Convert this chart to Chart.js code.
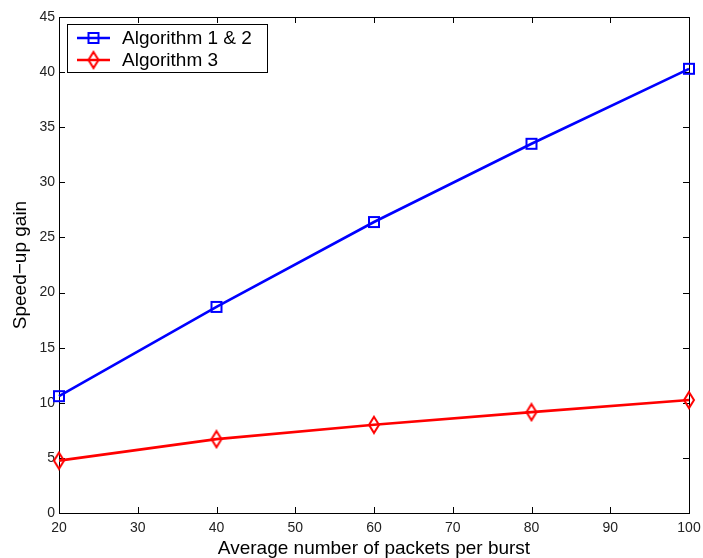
<!DOCTYPE html>
<html>
<head>
<meta charset="utf-8">
<script src="https://cdn.jsdelivr.net/npm/chart.js@4.4.1/dist/chart.umd.min.js"></script>
<style>
  html, body { margin: 0; padding: 0; background: #fff; }
</style>
</head>
<body>
<canvas id="speedupChart" width="703" height="558"></canvas>
<script>
// data
var packetsPerBurst = [20, 40, 60, 80, 100];
var gainAlg12 = [10.6, 18.7, 26.4, 33.5, 40.3];
var gainAlg3 = [4.75, 6.7, 8.0, 9.15, 10.25];
var seriesNames = ['Algorithm 1 & 2', 'Algorithm 3'];
var xTicks = [20, 30, 40, 50, 60, 70, 80, 90, 100];
var yTicks = [0, 5, 10, 15, 20, 25, 30, 35, 40, 45];

var FONT = '"Liberation Sans", Arial, Helvetica, sans-serif';

// matlab style open markers
function squareMarker(color) {
    var c = document.createElement('canvas');
    c.width = 14; c.height = 14;
    var g = c.getContext('2d');
    g.strokeStyle = color;
    g.lineWidth = 2;
    g.strokeRect(2, 2, 10, 10);
    return c;
}
function diamondMarker(color) {
    var c = document.createElement('canvas');
    c.width = 14; c.height = 20;
    var g = c.getContext('2d');
    g.strokeStyle = color;
    g.lineWidth = 2;
    g.beginPath();
    g.moveTo(7, 2); g.lineTo(12, 10); g.lineTo(7, 18); g.lineTo(2, 10);
    g.closePath();
    g.stroke();
    return c;
}

function toPoints(xs, ys) {
    return xs.map(function (x, i) { return { x: x, y: ys[i] }; });
}

// box + inward ticks, like the matlab axes
var axesBox = {
    id: 'axesBox',
    beforeDatasetsDraw: function (chart) {
        var ctx = chart.ctx, a = chart.chartArea;
        var xs = chart.scales.x, ys = chart.scales.y;
        ctx.save();
        ctx.strokeStyle = '#000';
        ctx.lineWidth = 1;
        ctx.strokeRect(Math.round(a.left) + 0.5, Math.round(a.top) + 0.5,
            Math.round(a.right - a.left), Math.round(a.bottom - a.top));
        ctx.beginPath();
        xTicks.forEach(function (v) {
            var px = Math.round(xs.getPixelForValue(v)) + 0.5;
            ctx.moveTo(px, a.bottom); ctx.lineTo(px, a.bottom - 6);
            ctx.moveTo(px, a.top); ctx.lineTo(px, a.top + 6);
        });
        yTicks.forEach(function (v) {
            var py = Math.round(ys.getPixelForValue(v)) + 0.5;
            ctx.moveTo(a.left, py); ctx.lineTo(a.left + 6, py);
            ctx.moveTo(a.right, py); ctx.lineTo(a.right - 6, py);
        });
        ctx.stroke();
        ctx.restore();
    }
};

var boxLegend = {
    id: 'boxLegend',
    afterDatasetsDraw: function (chart) {
        var ctx = chart.ctx;
        var bx = 67, by = 24, bw = 200, bh = 48;
        ctx.save();
        ctx.fillStyle = '#fff';
        ctx.fillRect(bx, by, bw, bh);
        ctx.strokeStyle = '#000';
        ctx.lineWidth = 1;
        ctx.strokeRect(bx + 0.5, by + 0.5, bw, bh);
        chart.data.datasets.forEach(function (ds, i) {
            var yy = 38 + i * 22;
            ctx.strokeStyle = ds.borderColor;
            ctx.lineWidth = ds.borderWidth;
            ctx.beginPath();
            ctx.moveTo(77, yy); ctx.lineTo(110, yy);
            ctx.stroke();
            var m = ds.pointStyle;
            ctx.drawImage(m, 93.5 - m.width / 2, yy - m.height / 2);
            ctx.fillStyle = '#000';
            ctx.font = '19px ' + FONT;
            ctx.textBaseline = 'middle';
            ctx.textAlign = 'left';
            ctx.fillText(ds.label, 122, yy + 1);
        });
        ctx.restore();
    }
};

var ctx = document.getElementById('speedupChart').getContext('2d');
var chart = new Chart(ctx, {
    type: 'line',
    data: {
        datasets: [{
            label: seriesNames[0],
            data: toPoints(packetsPerBurst, gainAlg12),
            borderColor: '#0000ff',
            borderWidth: 2.6,
            pointStyle: squareMarker('#0000ff'),
            fill: false,
            clip: false
        }, {
            label: seriesNames[1],
            data: toPoints(packetsPerBurst, gainAlg3),
            borderColor: '#ff0000',
            borderWidth: 2.6,
            pointStyle: diamondMarker('#ff0000'),
            fill: false,
            clip: false
        }]
    },
    options: {
        responsive: false,
        animation: false,
        devicePixelRatio: 1,
        layout: { padding: { left: 0, right: 14, top: 17, bottom: 0 } },
        plugins: { legend: { display: false }, tooltip: { enabled: false } },
        scales: {
            x: {
                type: 'linear',
                position: 'bottom',
                min: 20, max: 100,
                grid: { display: false, drawTicks: false },
                border: { display: false },
                afterBuildTicks: function (s) { s.ticks = xTicks.map(function (v) { return { value: v }; }); },
                afterFit: function (s) { s.height = 45; s.paddingLeft = 0; s.paddingRight = 0; },
                ticks: { color: '#222', padding: 7, maxRotation: 0, font: { family: FONT, size: 14 } },
                title: {
                    display: true,
                    text: 'Average number of packets per burst',
                    color: '#000',
                    padding: 0,
                    font: { family: FONT, size: 19, lineHeight: 1 }
                }
            },
            y: {
                type: 'linear',
                min: 0, max: 45,
                grid: { display: false, drawTicks: false },
                border: { display: false },
                afterBuildTicks: function (s) { s.ticks = yTicks.map(function (v) { return { value: v }; }); },
                afterFit: function (s) { s.width = 59; s.paddingTop = 0; s.paddingBottom = 0; },
                ticks: { color: '#222', padding: 4, font: { family: FONT, size: 14 } },
                title: {
                    display: true,
                    text: 'Speed\u2212up gain',
                    color: '#000',
                    padding: { top: 11, bottom: 0 },
                    font: { family: FONT, size: 19, lineHeight: 1 }
                }
            }
        }
    },
    plugins: [axesBox, boxLegend]
});
</script>
</body>
</html>
